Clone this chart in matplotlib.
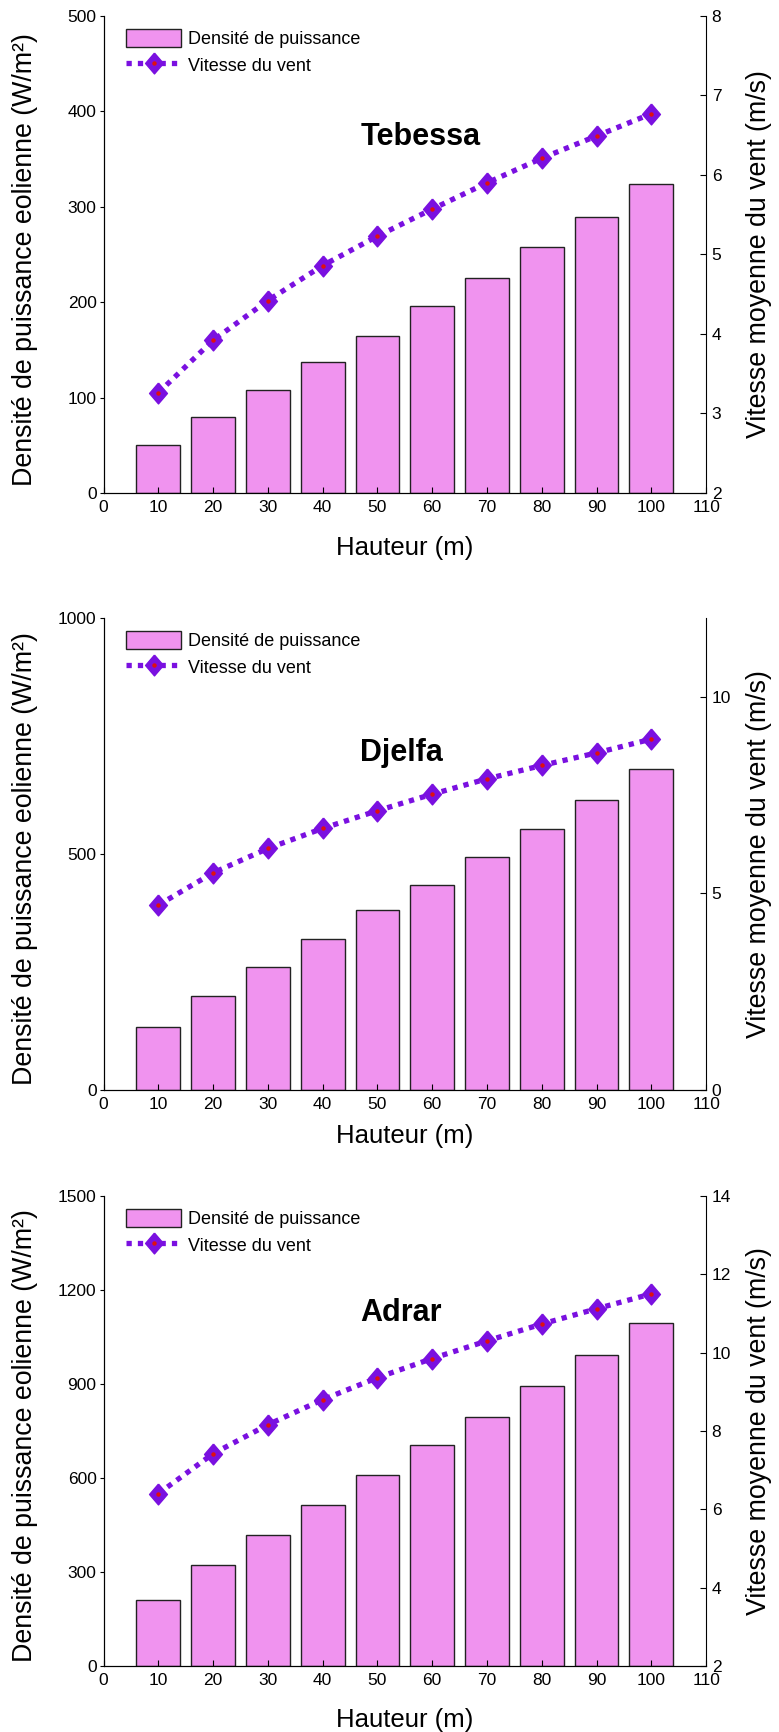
import numpy as np
import matplotlib.pyplot as plt

plt.rcParams['font.family'] = ['Liberation Sans', 'DejaVu Sans']

# Heights (m)
hauteur = [10, 20, 30, 40, 50, 60, 70, 80, 90, 100]
x_ticks = [0, 10, 20, 30, 40, 50, 60, 70, 80, 90, 100, 110]

# Tebessa
tebessa_puissance = [50, 80, 108, 137, 165, 196, 225, 258, 289, 324]
tebessa_vitesse = [3.26, 3.92, 4.42, 4.86, 5.23, 5.57, 5.90, 6.21, 6.49, 6.77]

# Djelfa
djelfa_puissance = [133, 198, 260, 319, 382, 435, 494, 553, 615, 680]
djelfa_vitesse = [4.70, 5.52, 6.14, 6.65, 7.10, 7.52, 7.91, 8.25, 8.57, 8.92]

# Adrar
adrar_puissance = [212, 321, 418, 515, 608, 705, 796, 894, 991, 1095]
adrar_vitesse = [6.40, 7.42, 8.16, 8.80, 9.36, 9.85, 10.30, 10.73, 11.12, 11.50]

bar_color = '#F093EF'
line_color = '#7A10E0'

# slightly tall diamond, like the MATLAB one
diamond = [(0, 1), (0.857, 0), (0, -1), (-0.857, 0), (0, 1)]


def panel(rect, puissance, vitesse, name, ylim_left, yticks_left,
          ylim_right, yticks_right, name_pos, xlabel_y):
    ax = fig.add_axes(rect)
    bars = ax.bar(hauteur, puissance, width=8, color=bar_color,
                  edgecolor='#222222', linewidth=1.0)
    ax.set_xlim(0, 110)
    ax.set_xticks(x_ticks)
    ax.set_ylim(*ylim_left)
    ax.set_yticks(yticks_left)
    ax.tick_params(axis='x', direction='in', labelsize=12.5, length=4.5, pad=5)
    ax.tick_params(axis='y', direction='out', labelsize=12.5, length=3, pad=2)
    ax.spines['top'].set_visible(False)
    ax.spines['right'].set_visible(False)
    ax.set_xlabel('Hauteur (m)', fontsize=18.5, va='center')
    ax.xaxis.set_label_coords(0.5, xlabel_y)
    ax.set_ylabel('Densité de puissance eolienne (W/m²)', fontsize=19.3,
                  va='center')
    ax.yaxis.set_label_coords(-0.131, 0.49)

    ax2 = ax.twinx()
    line, = ax2.plot(hauteur, vitesse, linestyle=(0, (1, 1.15)), linewidth=3.8,
                     color=line_color, marker=diamond, markersize=15,
                     markerfacecolor=line_color, markeredgecolor=line_color,
                     dash_capstyle='butt')
    dot, = ax2.plot(hauteur, vitesse, linestyle='none', marker='o',
                    markersize=2.2, color='#E01010')
    ax2.set_ylim(*ylim_right)
    ax2.set_yticks(yticks_right)
    ax2.tick_params(direction='in', labelsize=12.5, length=4.5, pad=4)
    ax2.spines['top'].set_visible(False)
    ax2.set_ylabel('Vitesse moyenne du vent (m/s)', fontsize=19.3, va='center')
    ax2.yaxis.set_label_coords(1.088, 0.5)

    ax.text(name_pos[0], name_pos[1], name, transform=ax.transAxes,
            fontsize=22, fontweight='bold', ha='center', va='baseline')

    ax2.legend([bars, (line, dot)], ['Densité de puissance', 'Vitesse du vent'],
               loc='upper left', bbox_to_anchor=(0.038, 0.972), frameon=False,
               fontsize=13, handlelength=3.05, handleheight=1.17,
               handletextpad=0.35, labelspacing=0.4, borderpad=0,
               borderaxespad=0, numpoints=1)
    return ax


fig = plt.figure(figsize=(7.79, 17.32), dpi=100)

panel([0.1329, 0.7154, 0.7735, 0.2754], tebessa_puissance, tebessa_vitesse,
      'Tebessa', (0, 500), [0, 100, 200, 300, 400, 500],
      (2, 8), [2, 3, 4, 5, 6, 7, 8], (0.527, 0.73), -0.115)

panel([0.1329, 0.3707, 0.7735, 0.2725], djelfa_puissance, djelfa_vitesse,
      'Djelfa', (0, 1000), [0, 500, 1000],
      (0, 12), [0, 5, 10], (0.495, 0.697), -0.097)

panel([0.1329, 0.0381, 0.7735, 0.2714], adrar_puissance, adrar_vitesse,
      'Adrar', (0, 1500), [0, 300, 600, 900, 1200, 1500],
      (2, 14), [2, 4, 6, 8, 10, 12, 14], (0.493, 0.733), -0.115)

fig.savefig('out.png', dpi=100)
